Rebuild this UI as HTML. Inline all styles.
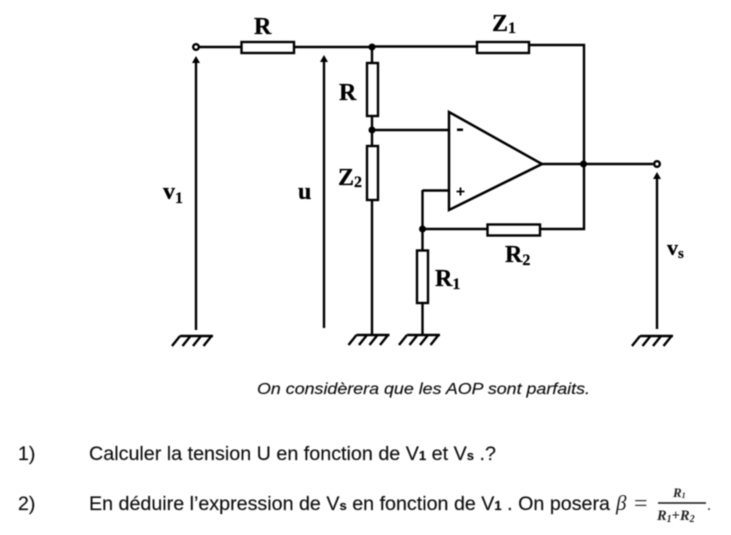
<!DOCTYPE html>
<html><head><meta charset="utf-8"><style>
html,body{margin:0;padding:0;background:#fff;width:731px;height:535px;overflow:hidden}
svg{display:block}
.s{font-family:"Liberation Serif",serif;font-weight:bold;fill:#000;stroke:#000;stroke-width:.25px}
.t{font-family:"Liberation Sans",sans-serif;fill:#111;font-size:19.5px;stroke:#111;stroke-width:.15px}
.m{font-family:"Liberation Serif",serif;font-style:italic;fill:#222}
</style></head><body>
<svg width="731" height="535" viewBox="0 0 731 535" xmlns="http://www.w3.org/2000/svg">
<defs>
<filter id="b" x="-5%" y="-5%" width="110%" height="110%"><feGaussianBlur stdDeviation="0.5"/></filter>
<g id="g" fill="none" stroke="#000" stroke-width="2.400">
<path d="M8 0H41M8 0L0 10M18.500 0L10.500 10M29 0L21 10M39.500 0L31.500 10"/>
</g>
</defs>
<g filter="url(#b)">
<g fill="none" stroke="#000" stroke-width="2.400">
<path d="M199 47H241M294 47H372M372 46.500H477M529 45H584V229H540M487 229H422.500M372 47V63M372 116V146M372 200V336"/>
<path d="M372 130H449M422.500 190.500H449M422.500 190V250M422.500 303V336"/>
<path d="M542 164H653"/>
<rect x="241.500" y="42" width="52.500" height="11"/>
<rect x="477" y="42" width="52" height="11"/>
<rect x="367" y="63" width="11" height="53"/>
<rect x="367" y="146" width="11" height="54"/>
<rect x="487.500" y="224.500" width="52.500" height="11"/>
<rect x="417" y="250.500" width="11" height="52.500"/>
<path d="M449 112V210L542 164Z" stroke-width="2.500" stroke-linejoin="miter"/>
<circle cx="196" cy="47" r="2.800"/>
<circle cx="657" cy="164" r="2.800"/>
<path d="M196 60V330M324 60V328M657 176V329"/>
</g>
<g fill="#000">
<circle cx="372" cy="47" r="3.500"/>
<circle cx="372" cy="130" r="3.500"/>
<circle cx="583.500" cy="164" r="3.500"/>
<circle cx="422.500" cy="229" r="3.500"/>
<path d="M196 56L192 63H200Z"/>
<path d="M324 55L320 62H328Z"/>
<path d="M657 172L653 179H661Z"/>
<rect x="457" y="128.500" width="6" height="2.500"/>
</g>
<use href="#g" x="172" y="336"/>
<use href="#g" x="348.500" y="335"/>
<use href="#g" x="399" y="335"/>
<use href="#g" x="632" y="336"/>
<path d="M456.500 191.500H464.500M460.500 187.500V195.500" stroke="#000" stroke-width="1.800" fill="none"/>
<text class="s" font-size="24" x="254" y="34">R</text>
<text class="s" font-size="24" x="492" y="31">Z<tspan font-size="16" dy="2">1</tspan></text>
<text class="s" font-size="24" x="339" y="100">R</text>
<text class="s" font-size="24" x="338" y="185">Z<tspan font-size="16" dy="2">2</tspan></text>
<text class="s" font-size="24" x="163" y="199">v<tspan font-size="16" dy="4">1</tspan></text>
<text class="s" font-size="24" x="298" y="199">u</text>
<text class="s" font-size="24" x="435" y="286">R<tspan font-size="16" dy="3">1</tspan></text>
<text class="s" font-size="24" x="505" y="262">R<tspan font-size="16" dy="3">2</tspan></text>
<text class="s" font-size="22" x="667" y="255">v<tspan font-size="15" dy="3">s</tspan></text>
</g>
<g filter="url(#b)">
<text class="t" x="257" y="394" font-style="italic" style="font-size:16px" textLength="333" lengthAdjust="spacingAndGlyphs">On considèrera que les AOP sont parfaits.</text>
<text class="t" x="18" y="460">1)</text>
<text class="t" x="89" y="460" textLength="407" lengthAdjust="spacingAndGlyphs">Calculer la tension U en fonction de V<tspan style="font-size:13px;font-weight:bold">1</tspan> et V<tspan style="font-size:13px;font-weight:bold">s</tspan> .?</text>
<text class="t" x="18" y="510">2)</text>
<text class="t" x="89" y="510" textLength="521" lengthAdjust="spacingAndGlyphs">En déduire l’expression de V<tspan style="font-size:13px;font-weight:bold">s</tspan> en fonction de V<tspan style="font-size:13px;font-weight:bold">1</tspan> . On posera</text>
<text class="m" x="616" y="510" font-size="21">β</text>
<text x="634" y="511" font-size="24" font-family="Liberation Serif,serif" fill="#333">=</text>
<path d="M658 503H706" stroke="#111" stroke-width="1.500"/>
<text class="m" x="673" y="497" font-size="13" font-weight="bold">R<tspan font-size="8" dy="1">1</tspan></text>
<text class="m" x="657" y="520" font-size="14.500" font-weight="bold">R<tspan font-size="10" dy="2">1</tspan><tspan dy="-2" font-style="normal">+</tspan>R<tspan font-size="10" dy="2">2</tspan></text>
<text x="707" y="510" font-size="16" font-family="Liberation Serif,serif" fill="#333">.</text>
</g>
</svg>
</body></html>
